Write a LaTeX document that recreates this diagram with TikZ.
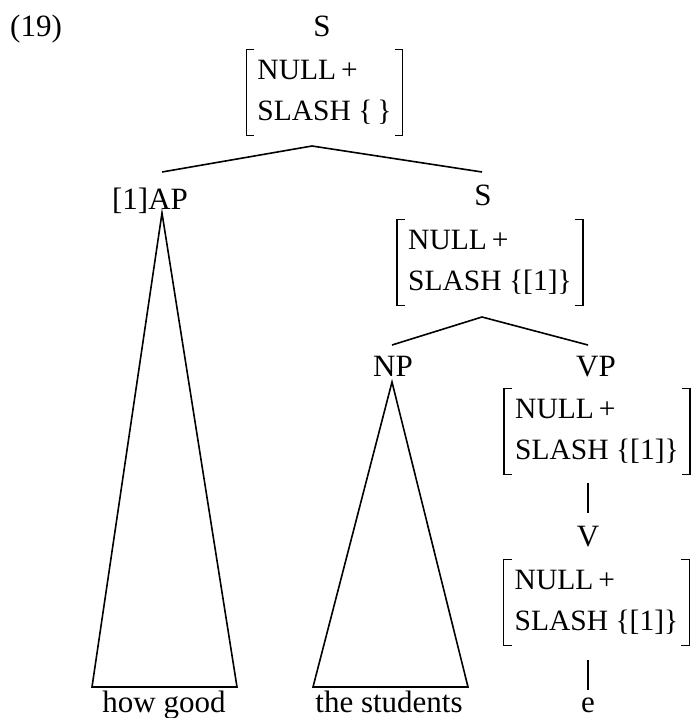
\documentclass[tikz,border=0pt]{standalone}
\usepackage{fontspec}
\setmainfont{Liberation Serif}
\newcommand\fsbr[1]{%
  \draw[brk] ([xshift=8pt]#1.north west) -- (#1.north west) -- (#1.south west) -- ([xshift=8pt]#1.south west);
  \draw[brk] ([xshift=-8pt]#1.north east) -- (#1.north east) -- (#1.south east) -- ([xshift=-8pt]#1.south east);}
\begin{document}
\begin{tikzpicture}[x=1pt,y=-1pt,
  lbl/.style={anchor=base, inner sep=0pt, font=\fontsize{31}{42}\selectfont},
  fs/.style={align=left, inner xsep=11pt, inner ysep=0pt, minimum height=85pt, font=\fontsize{29.5}{41}\selectfont},
  edge/.style={line width=1.6pt},
  brk/.style={line width=1.3pt}]
\useasboundingbox (0,0) rectangle (694,718);
% labels
\node[lbl, anchor=base west] (num) at (10,36) {(19)};
\node[lbl] (S1) at (322,36) {S};
\node[fs] (f1) at (324.5,92.5) {NULL\,+\\SLASH \{\,\}};
\node[lbl] (AP) at (150,209) {[1]AP};
\node[lbl] (S2) at (483,205) {S};
\node[fs] (f2) at (490,262.5) {NULL\,+\\SLASH \{[1]\}};
\node[lbl] (NP) at (393,376) {NP};
\node[lbl] (VP) at (596,376) {VP};
\node[fs] (f3) at (597,431.5) {NULL\,+\\SLASH \{[1]\}};
\node[lbl] (V) at (588,546) {V};
\node[fs] (f4) at (596.5,602.5) {NULL\,+\\SLASH \{[1]\}};
\node[lbl] (e) at (588,712) {e};
\node[lbl] (hg) at (164,712) {how good};
\node[lbl] (ts) at (389,712) {the students};
\fsbr{f1}\fsbr{f2}\fsbr{f3}\fsbr{f4}
% connector points
\coordinate (s1b) at (312,146);
\coordinate (apt) at (162,172);
\coordinate (s2t) at (482,172);
\coordinate (s2b) at (482,317);
\coordinate (npt) at (392,345);
\coordinate (vpt) at (588,345);
\coordinate (vpb) at (588,483);
\coordinate (vt) at (588,513);
\coordinate (vb) at (588,660);
\coordinate (et) at (588,690);
\coordinate (apA) at (162,213);
\coordinate (apL) at (92,687);
\coordinate (apR) at (237,687);
\coordinate (npA) at (392,382);
\coordinate (npL) at (313,687);
\coordinate (npR) at (468,687);
\draw[edge] (apt) -- (s1b) -- (s2t);
\draw[edge] (npt) -- (s2b) -- (vpt);
\draw[edge] (vpb) -- (vt);
\draw[edge] (vb) -- (et);
\draw[edge] (apA) -- (apL) -- (apR) -- cycle;
\draw[edge] (npA) -- (npL) -- (npR) -- cycle;
\end{tikzpicture}
\end{document}
